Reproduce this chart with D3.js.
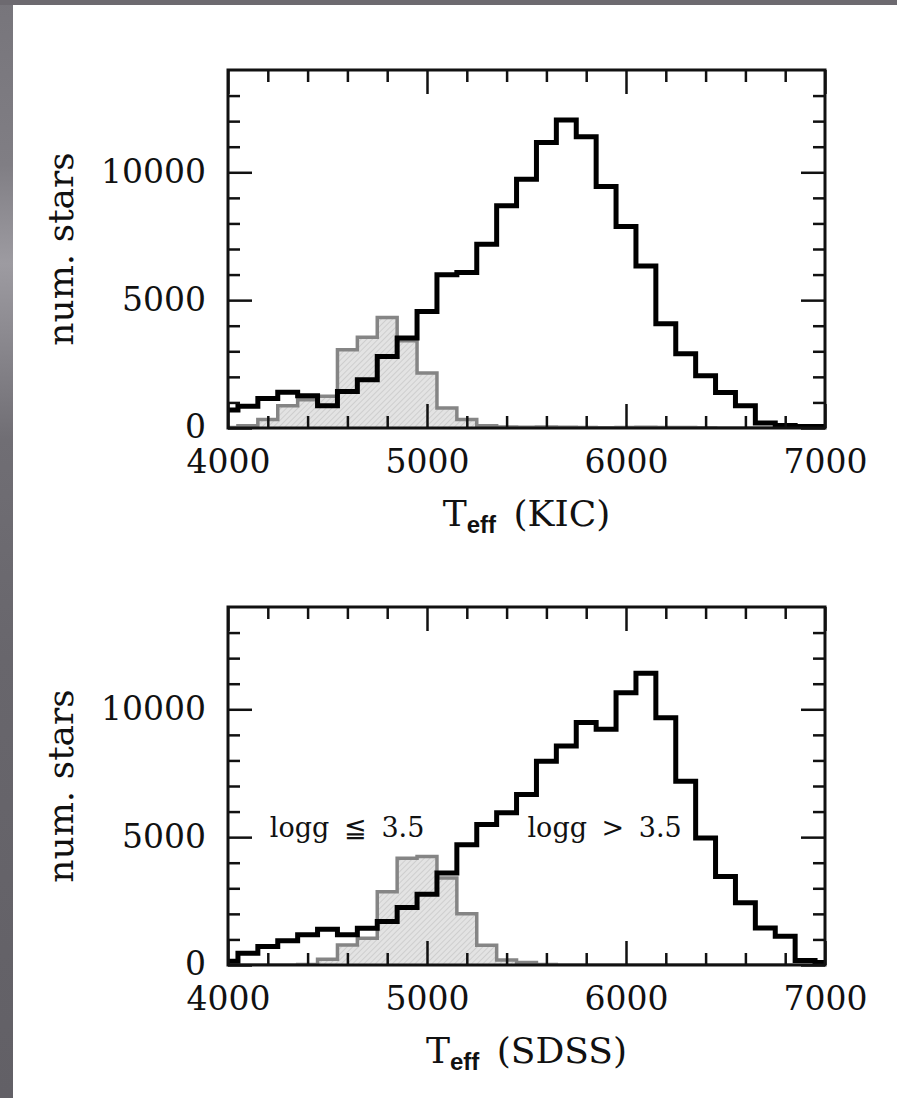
<!DOCTYPE html>
<html>
<head>
<meta charset="utf-8">
<script src="https://cdn.jsdelivr.net/npm/d3@7"></script>
<style>
  body { margin: 0; background: #fff; }
  svg { display: block; }
  text { font-family: "DejaVu Serif", serif; fill: #111; }
</style>
</head>
<body>
<svg id="chart" width="897" height="1098"></svg>
<script>
// bin centres (K), 100 K wide
const teffBins = [4000, 4100, 4200, 4300, 4400, 4500, 4600, 4700, 4800, 4900,
  5000, 5100, 5200, 5300, 5400, 5500, 5600, 5700, 5800, 5900,
  6000, 6100, 6200, 6300, 6400, 6500, 6600, 6700, 6800, 6900, 7000];

// KIC temperatures: all stars and the logg <= 3.5 subset
const kicAll = [700, 850, 1150, 1400, 1260, 870, 1430, 1890, 2800, 3520,
  4560, 5990, 6080, 7190, 8690, 9730, 11160, 12040, 11390, 9440,
  7880, 6340, 4080, 2900, 2040, 1390, 870, 200, 100, 60, 60];
const kicGiant = [20, 90, 330, 870, 1100, 1240, 3060, 3550, 4320, 3410,
  2150, 780, 330, 90, 40, 30, 40, 30, 20, 10,
  20, 30, 20, 20, 10, 0, 0, 0, 0, 0, 0];

// SDSS temperatures
const sdssAll = [150, 460, 720, 950, 1180, 1400, 1180, 1440, 1700, 2250,
  2770, 3600, 4700, 5490, 5950, 6670, 7970, 8560, 9480, 9220,
  10650, 11410, 9670, 7190, 4970, 3460, 2430, 1450, 1120, 180, 100];
const sdssGiant = [0, 0, 0, 0, 20, 220, 780, 1050, 2860, 4170,
  4240, 3400, 2000, 770, 200, 100, 20, 0, 0, 0,
  0, 0, 0, 0, 0, 0, 0, 0, 0, 0, 0];

const xMajor = [4000, 5000, 6000, 7000];
const yMajor = [0, 5000, 10000];
const notes = [
  { t: 4210, n: 5000, text: 'logg ≦ 3.5' },
  { t: 5505, n: 5000, text: 'logg > 3.5' }
];

const svg = d3.select('#chart');
const W = 897, H = 1098;

// slide background: grey strips on the top and left
const defs = svg.append('defs');
const grad = defs.append('linearGradient').attr('id', 'side')
  .attr('x1', 0).attr('y1', 0).attr('x2', 0).attr('y2', 1);
[[0, '#77757b'], [0.15, '#807e84'], [0.24, '#9d9ba1'], [0.30, '#8d8b91'],
 [0.40, '#706e74'], [0.6, '#68666c'], [1, '#626066']].forEach(s => {
  grad.append('stop').attr('offset', s[0]).attr('stop-color', s[1]);
});
svg.append('rect').attr('width', W).attr('height', H).attr('fill', '#fff');
svg.append('rect').attr('width', 13).attr('height', H).attr('fill', 'url(#side)');
svg.append('rect').attr('width', W).attr('height', 5).attr('fill', '#6d6a70');

// hatch for the giant histograms
const pat = defs.append('pattern').attr('id', 'hatch')
  .attr('patternUnits', 'userSpaceOnUse')
  .attr('width', 4).attr('height', 4)
  .attr('patternTransform', 'rotate(45)');
pat.append('rect').attr('width', 4).attr('height', 4).attr('fill', '#e3e3e3');
pat.append('line').attr('x1', 0).attr('y1', 0).attr('x2', 0).attr('y2', 4)
  .attr('stroke', '#c6c6c6').attr('stroke-width', 1.4);

const left = 228, w = 597, h = 358;
const x = d3.scaleLinear().domain([4000, 7000]).range([0, w]);
const y = d3.scaleLinear().domain([0, 14000]).range([h, 0]);

const panels = [
  { top: 70, all: kicAll, giant: kicGiant, label: 'KIC', id: 'c1' },
  { top: 607, all: sdssAll, giant: sdssGiant, label: 'SDSS', id: 'c2', notes: true }
];

function styleAxis(g, width) {
  g.select('.domain').remove();
  g.selectAll('.tick line').attr('stroke', '#111').attr('stroke-width', width);
}

panels.forEach(p => {
  const g = svg.append('g').attr('transform', `translate(${left},${p.top})`);
  defs.append('clipPath').attr('id', p.id)
    .append('rect').attr('width', w).attr('height', h);

  const plot = g.append('g').attr('clip-path', `url(#${p.id})`);
  const bins = teffBins.map((t, i) => ({ t: t, all: p.all[i], giant: p.giant[i] }));

  // giant histogram: hatched fill + grey outline
  plot.append('path').datum(bins)
    .attr('fill', 'url(#hatch)')
    .attr('d', d3.area().curve(d3.curveStep)
      .x(d => x(d.t)).y0(h).y1(d => y(d.giant)));
  plot.append('path').datum(bins)
    .attr('fill', 'none')
    .attr('stroke', '#858585')
    .attr('stroke-width', 3.5)
    .attr('d', d3.line().curve(d3.curveStep)
      .x(d => x(d.t)).y(d => y(d.giant)));

  // all stars
  plot.append('path').datum(bins)
    .attr('fill', 'none')
    .attr('stroke', '#000')
    .attr('stroke-width', 5)
    .attr('stroke-linejoin', 'miter')
    .attr('d', d3.line().curve(d3.curveStep)
      .x(d => x(d.t)).y(d => y(d.all)));

  // ticks on all four sides, pointing inward
  const xMinor = d3.range(4200, 7000, 200).filter(v => v % 1000 !== 0);
  const yMinor = d3.range(1000, 14000, 1000).filter(v => v % 5000 !== 0);

  g.append('g').attr('transform', `translate(0,${h})`)
    .call(d3.axisBottom(x).tickValues(xMinor).tickSize(-12).tickFormat(''))
    .call(a => styleAxis(a, 2.5));
  g.append('g').attr('transform', `translate(0,${h})`)
    .call(d3.axisBottom(x).tickValues(xMajor).tickSizeInner(-24).tickSizeOuter(0)
      .tickPadding(22).tickFormat(d3.format('d')))
    .call(a => styleAxis(a, 2.5))
    .call(a => a.selectAll('text').attr('font-size', 33).attr('font-family', '"DejaVu Serif", serif').attr('fill', '#111'));
  g.append('g')
    .call(d3.axisTop(x).tickValues(xMinor).tickSize(-12).tickFormat(''))
    .call(a => styleAxis(a, 2.5));
  g.append('g')
    .call(d3.axisTop(x).tickValues(xMajor).tickSize(-24).tickFormat(''))
    .call(a => styleAxis(a, 2.5));

  g.append('g')
    .call(d3.axisLeft(y).tickValues(yMinor).tickSize(-12).tickFormat(''))
    .call(a => styleAxis(a, 2.5));
  g.append('g')
    .call(d3.axisLeft(y).tickValues(yMajor).tickSizeInner(-24).tickSizeOuter(0)
      .tickPadding(22).tickFormat(d3.format('d')))
    .call(a => styleAxis(a, 2.5))
    .call(a => a.selectAll('text').attr('font-size', 33).attr('dy', '0.3em')
      .attr('font-family', '"DejaVu Serif", serif').attr('fill', '#111'));
  g.append('g').attr('transform', `translate(${w},0)`)
    .call(d3.axisRight(y).tickValues(yMinor).tickSize(-12).tickFormat(''))
    .call(a => styleAxis(a, 2.5));
  g.append('g').attr('transform', `translate(${w},0)`)
    .call(d3.axisRight(y).tickValues(yMajor).tickSize(-24).tickFormat(''))
    .call(a => styleAxis(a, 2.5));

  // frame
  g.append('rect').attr('width', w).attr('height', h)
    .attr('fill', 'none').attr('stroke', '#111').attr('stroke-width', 3);

  // axis titles
  g.append('text')
    .attr('transform', `translate(${-155},${h / 2}) rotate(-90)`)
    .attr('text-anchor', 'middle')
    .attr('font-size', 36)
    .text('num. stars');

  const xt = g.append('text')
    .attr('x', w / 2).attr('y', h + 98)
    .attr('text-anchor', 'middle')
    .attr('font-size', 36);
  xt.append('tspan').text('T');
  xt.append('tspan').attr('dy', 7)
    .attr('font-family', '"Liberation Sans", sans-serif')
    .attr('font-weight', 'bold').attr('font-size', 24).text('eff');
  xt.append('tspan').attr('dy', -7).attr('dx', 6).text('\u00a0(' + p.label + ')');

  if (p.notes) {
    g.selectAll('.note').data(notes).enter().append('text')
      .attr('class', 'note')
      .attr('x', d => x(d.t)).attr('y', d => y(d.n))
      .attr('font-size', 27)
      .attr('word-spacing', 6)
      .text(d => d.text);
  }
});
</script>
</body>
</html>
